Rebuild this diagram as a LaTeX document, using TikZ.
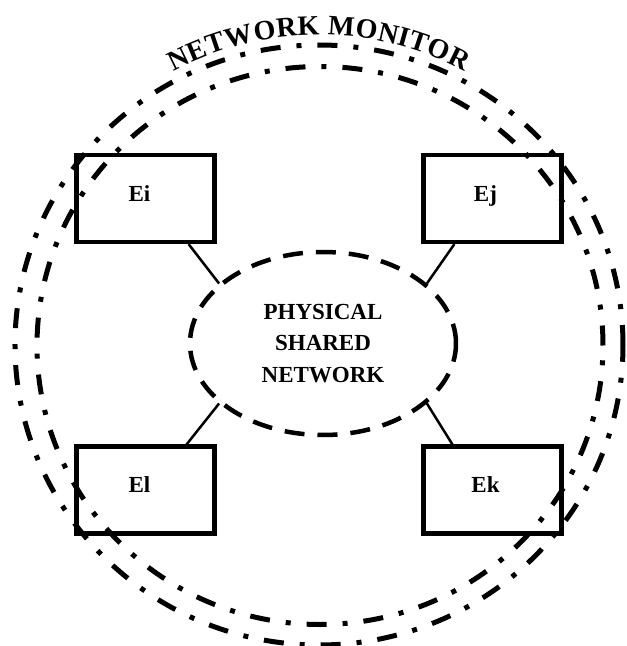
\documentclass[tikz,border=0pt]{standalone}
\usepackage{fontspec}
\setmainfont{Liberation Serif}
\usetikzlibrary{positioning,shapes.geometric,calc,decorations.text}

\newcommand\titlefont{\fontsize{28}{28}\selectfont\bfseries}

\begin{document}
\begin{tikzpicture}[
    x=1pt, y=1pt,
    station/.style={draw, line width=4.2pt, minimum width=138pt, minimum height=87pt, text depth=10pt, font=\fontsize{23}{28}\selectfont\bfseries},
    medium/.style={ellipse, draw, line width=4.5pt, dash pattern=on 20pt off 13pt, minimum width=266pt, minimum height=183pt, inner sep=0pt, align=center, font=\fontsize{23}{31.5}\selectfont\bfseries},
    link/.style={line width=2.5pt},
    monitor/.style={line width=5pt, dash pattern=on 20pt off 16pt on 5pt off 16pt},
]
\useasboundingbox (-319,-301) rectangle (308,345);

% Shared medium
\node[medium] (net) at (4,1.5) {PHYSICAL\\SHARED\\NETWORK};

% Stations
\node[station] (ei) at (-173.5,146.5) {Ei\hspace*{12pt}};
\node[station] (ej) at (173.5,146.5) {Ej\hspace*{14pt}};
\node[station] (el) at (-173.5,-145) {El\hspace*{12pt}};
\node[station] (ek) at (173.5,-145) {Ek\hspace*{14pt}};

\draw[link] ($(ei.south east)+(-28,0)$) -- (net.150);
\draw[link] ($(ej.south west)+(33,0)$) -- (net.30);
\draw[link] ($(el.north east)+(-30,0)$) -- (net.210);
\draw[link] ($(ek.north west)+(31,0)$) -- (net.330);

% Monitor boundary
\draw[monitor] (0,0) ellipse [x radius=304pt, y radius=300pt];
\draw[monitor] (1,-0.5) ellipse [x radius=283pt, y radius=279pt];
\path[font=\titlefont, decorate, decoration={text along path, text align=fit to path,
    text={|\titlefont|NETWORK MONITOR}}]
    (118:310pt) arc[start angle=118, end angle=62, radius=310pt];
\end{tikzpicture}
\end{document}
